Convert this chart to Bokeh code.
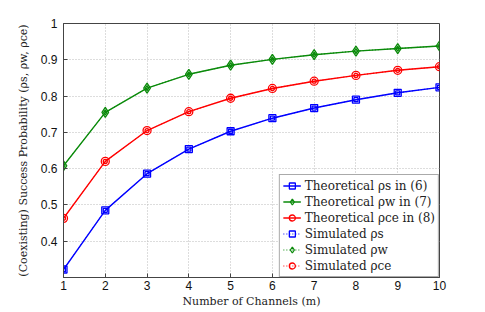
from bokeh.plotting import figure
from bokeh.models import Legend, LegendItem, Range1d, FixedTicker
from bokeh.embed import file_html
from bokeh.resources import INLINE

channels = [1, 2, 3, 4, 5, 6, 7, 8, 9, 10]
theo_s = [0.322, 0.485, 0.586, 0.654, 0.703, 0.739, 0.767, 0.790, 0.809, 0.824]
theo_w = [0.608, 0.755, 0.822, 0.860, 0.885, 0.901, 0.914, 0.924, 0.931, 0.938]
theo_ce = [0.463, 0.620, 0.705, 0.757, 0.794, 0.821, 0.841, 0.857, 0.871, 0.881]
sim_s = [0.322, 0.485, 0.586, 0.654, 0.703, 0.739, 0.767, 0.790, 0.809, 0.824]
sim_w = [0.608, 0.755, 0.822, 0.860, 0.885, 0.901, 0.914, 0.924, 0.931, 0.938]
sim_ce = [0.463, 0.620, 0.705, 0.757, 0.794, 0.821, 0.841, 0.857, 0.871, 0.881]
y_ticks = [0.4, 0.5, 0.6, 0.7, 0.8, 0.9, 1.0]

BLUE = "#0000ff"
GREEN = "#0a8a0a"
RED = "#ff0000"
SERIF = "DejaVu Serif"

p = figure(width=485, height=312, output_backend="svg", toolbar_location=None,
           x_range=Range1d(1, 10), y_range=Range1d(0.3, 1.0),
           min_border_left=63, min_border_right=46, min_border_top=23, min_border_bottom=35)

p.outline_line_color = "#444444"
p.outline_line_width = 1
p.background_fill_color = "white"
p.border_fill_color = "white"

for ax in (p.xaxis[0], p.yaxis[0]):
    ax.major_tick_in = 4
    ax.major_tick_out = 0
    ax.minor_tick_in = 0
    ax.minor_tick_out = 0
    ax.axis_line_color = "#444444"
    ax.major_tick_line_color = "#444444"
    ax.major_label_text_font = "Liberation Sans"
    ax.major_label_text_font_size = "12px"
    ax.major_label_text_color = "#111111"
    ax.axis_label_text_font = SERIF
    ax.axis_label_text_font_style = "normal"
    ax.axis_label_text_font_size = "11px"
    ax.axis_label_text_color = "#222222"

p.xaxis.ticker = FixedTicker(ticks=channels)
p.yaxis.ticker = FixedTicker(ticks=y_ticks)
p.xaxis.major_label_standoff = 3
p.yaxis.major_label_standoff = 6
p.xaxis.axis_label_standoff = 2
p.yaxis.axis_label_standoff = 8
p.xaxis.axis_label = "Number of Channels (m)"
p.yaxis.axis_label = "(Coexisting) Success Probability (ρs, ρw, ρce)"

for g in (p.xgrid[0], p.ygrid[0]):
    g.grid_line_color = "#bbbbbb"
    g.grid_line_dash = "1 2"
    g.grid_line_width = 1

# simulated (dotted, hollow larger markers)
sl_s = p.line(channels, sim_s, color=BLUE, line_width=1, line_dash="1 2")
sm_s = p.scatter(channels, sim_s, marker="square", size=7, line_color=BLUE, fill_color=None, line_width=1.3)
sl_w = p.line(channels, sim_w, color=GREEN, line_width=1, line_dash="1 2")
sm_w = p.scatter(channels, sim_w, marker="diamond", size=10, line_color=GREEN, fill_color=None, line_width=1.3)
sl_ce = p.line(channels, sim_ce, color=RED, line_width=1, line_dash="1 2")
sm_ce = p.scatter(channels, sim_ce, marker="circle", size=8, line_color=RED, fill_color=None, line_width=1.3)

# theoretical (solid, small markers)
tl_s = p.line(channels, theo_s, color=BLUE, line_width=1.4)
tm_s = p.scatter(channels, theo_s, marker="square", size=4, line_color=BLUE, fill_color=None, line_width=1.3)
tl_w = p.line(channels, theo_w, color=GREEN, line_width=1.4)
tm_w = p.scatter(channels, theo_w, marker="diamond", size=5, line_color=GREEN, fill_color=None, line_width=1.3)
tl_ce = p.line(channels, theo_ce, color=RED, line_width=1.4)
tm_ce = p.scatter(channels, theo_ce, marker="circle", size=4, line_color=RED, fill_color=None, line_width=1.3)

legend = Legend(items=[
    LegendItem(label="Theoretical ρs in (6)", renderers=[tl_s, tm_s]),
    LegendItem(label="Theoretical ρw in (7)", renderers=[tl_w, tm_w]),
    LegendItem(label="Theoretical ρce in (8)", renderers=[tl_ce, tm_ce]),
    LegendItem(label="Simulated ρs", renderers=[sl_s, sm_s]),
    LegendItem(label="Simulated ρw", renderers=[sl_w, sm_w]),
    LegendItem(label="Simulated ρce", renderers=[sl_ce, sm_ce]),
], location="bottom_right",
    label_text_font=SERIF, label_text_font_size="12px",
    label_text_color="#222222",
    margin=0, padding=3, spacing=1, label_height=15, glyph_height=15,
    glyph_width=18, label_standoff=4,
    border_line_color="#555555", border_line_width=1,
    background_fill_color="white", background_fill_alpha=1)
p.add_layout(legend, "center")

open("out.html", "w").write(file_html(p, INLINE))
